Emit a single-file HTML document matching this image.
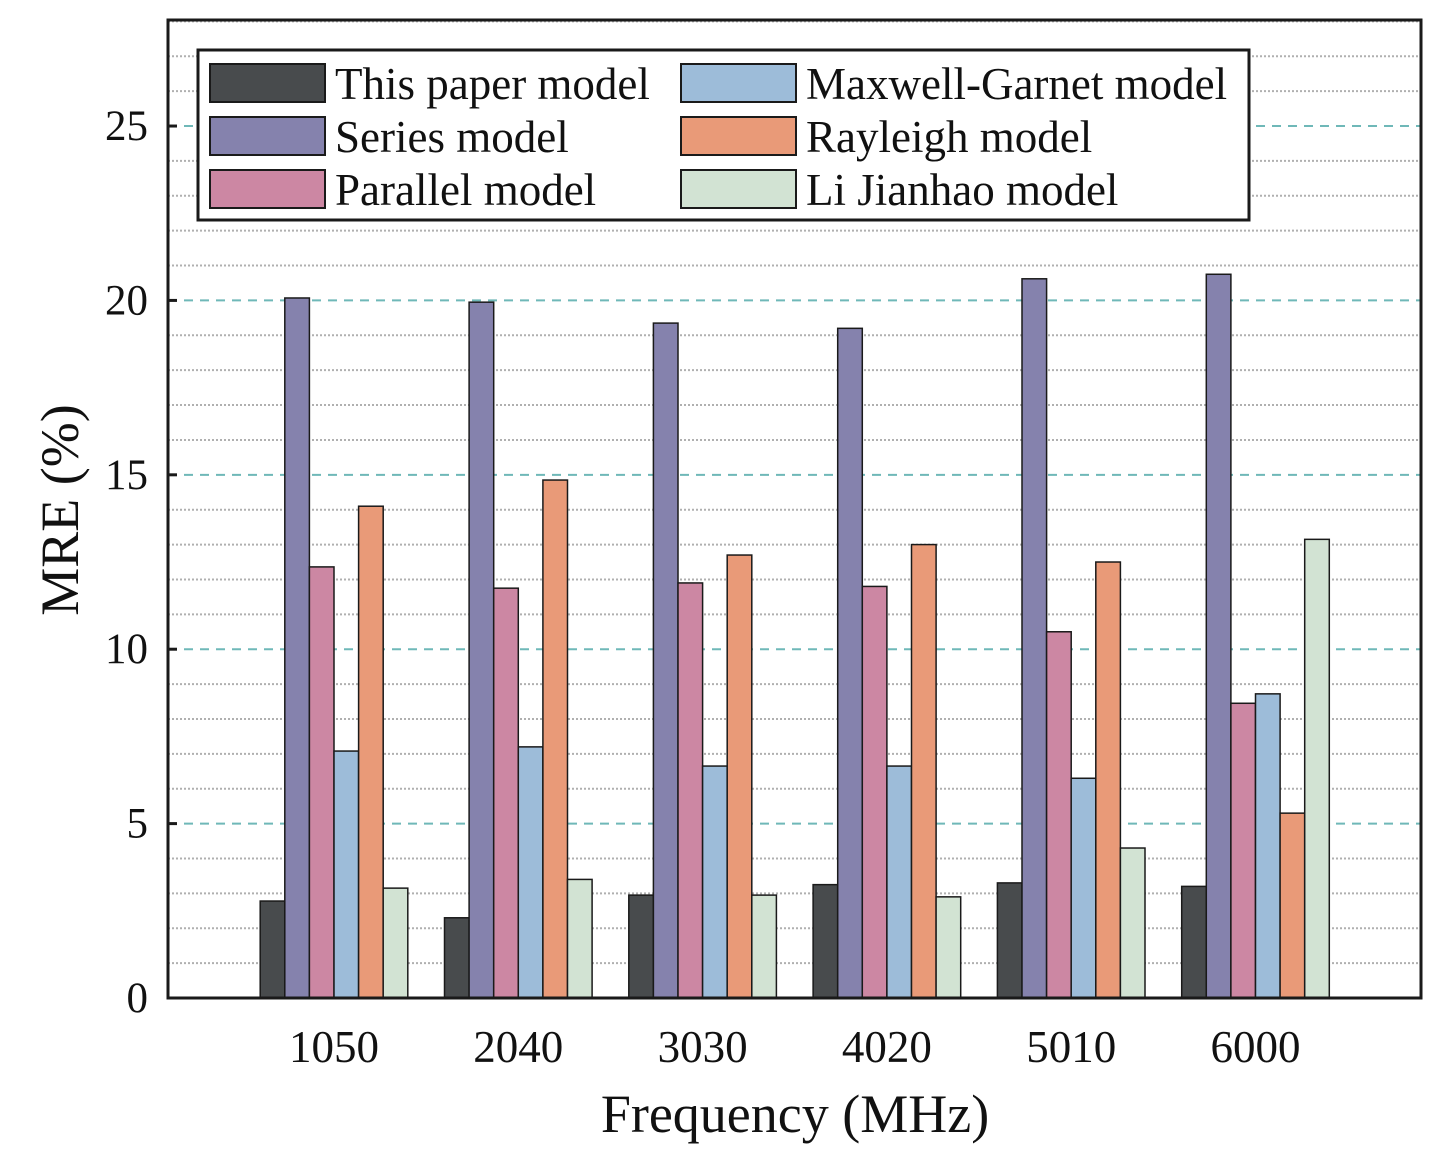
<!DOCTYPE html>
<html><head><meta charset="utf-8"><style>
body{margin:0;background:#fff;}
svg text{font-family:"Liberation Serif",serif;fill:#111;}
</style></head><body>
<svg id="chart" width="1441" height="1166" xmlns="http://www.w3.org/2000/svg">
<g id="grid"></g><g id="bars"></g><g id="axes"></g><g id="legend"></g>
</svg>
<script>
const categories=["1050","2040","3030","4020","5010","6000"];
const seriesNames=["This paper model","Series model","Parallel model","Maxwell-Garnet model","Rayleigh model","Li Jianhao model"];
const seriesColors=["#484b4d","#8582ad","#cc87a3","#9dbcd9","#e99a78","#d2e3d3"];
const thisPaper=[2.78,2.3,2.95,3.25,3.3,3.2];
const seriesModel=[20.07,19.95,19.35,19.2,20.62,20.75];
const parallelModel=[12.36,11.75,11.9,11.8,10.5,8.45];
const maxwellGarnet=[7.08,7.2,6.65,6.65,6.3,8.72];
const rayleigh=[14.1,14.85,12.7,13.0,12.5,5.3];
const liJianhao=[3.15,3.4,2.95,2.9,4.3,13.15];
const yTicks=[0,5,10,15,20,25];
const allSeries=[thisPaper,seriesModel,parallelModel,maxwellGarnet,rayleigh,liJianhao];
const L=168,R=1421,T=20,B=998,yMax=28.04;
const y=v=>B-(v/yMax)*(B-T);
const xc=i=>334+i*184.3;
const bw=24.6;
const NS="http://www.w3.org/2000/svg";
function mk(tag,attrs,parent,text){const e=document.createElementNS(NS,tag);for(const k in attrs)e.setAttribute(k,attrs[k]);if(text!==undefined)e.textContent=text;parent.appendChild(e);return e;}
const grid=document.getElementById('grid'),bars=document.getElementById('bars'),axes=document.getElementById('axes'),legend=document.getElementById('legend');
for(let v=1;v<yMax;v++){
  if(v%5===0){const l=mk('line',{x1:L,x2:R,y1:y(v),y2:y(v),stroke:'#6fb8b8','stroke-width':2,'stroke-dasharray':'9,7'},grid);
  
  }
  else{const l=mk('line',{x1:L,x2:R,y1:y(v),y2:y(v),stroke:'#b0b0b0','stroke-width':2,'stroke-dasharray':'2,2'},grid);
  
  }
}
allSeries.forEach((s,si)=>{s.forEach((v,ci)=>{
  const x0=xc(ci)-3*bw+si*bw;
  const r=mk('rect',{x:x0,y:y(v),width:bw,height:B-y(v),fill:seriesColors[si],stroke:'#1a1a1a','stroke-width':1.5},bars);
  
  
});});
const frame=mk('rect',{x:L,y:T,width:R-L,height:B-T,fill:'none',stroke:'#1a1a1a','stroke-width':3},axes);


yTicks.forEach(v=>{
  mk('line',{x1:L,x2:L+9,y1:y(v),y2:y(v),stroke:'#1a1a1a','stroke-width':3},axes);
  const t=mk('text',{x:148,y:y(v)+14,'font-size':43,'text-anchor':'end'},axes,String(v));
  
  
});
categories.forEach((c,i)=>{
  const t=mk('text',{x:xc(i),y:1062,'font-size':45,'text-anchor':'middle'},axes,c);
  
  
});
const xt=mk('text',{x:795,y:1132,'font-size':54,'text-anchor':'middle'},axes,'Frequency (MHz)');


const yt=mk('text',{x:0,y:0,'font-size':54,'text-anchor':'middle',transform:'translate(78,510) rotate(-90)'},axes,'MRE (%)');


const lb=mk('rect',{x:198,y:50,width:1051,height:170,fill:'#fff',stroke:'#1a1a1a','stroke-width':3},legend);


seriesNames.forEach((n,i)=>{
  const col=Math.floor(i/3),row=i%3;
  const x0=col?681:210,y0=64+row*53;
  const g=mk('g',{},legend);
  
  
  mk('rect',{x:x0,y:y0,width:115,height:38,fill:seriesColors[i],stroke:'#1a1a1a','stroke-width':2},g);
  mk('text',{x:x0+125,y:y0+35,'font-size':45},g,n);
});
</script>
</body></html>
